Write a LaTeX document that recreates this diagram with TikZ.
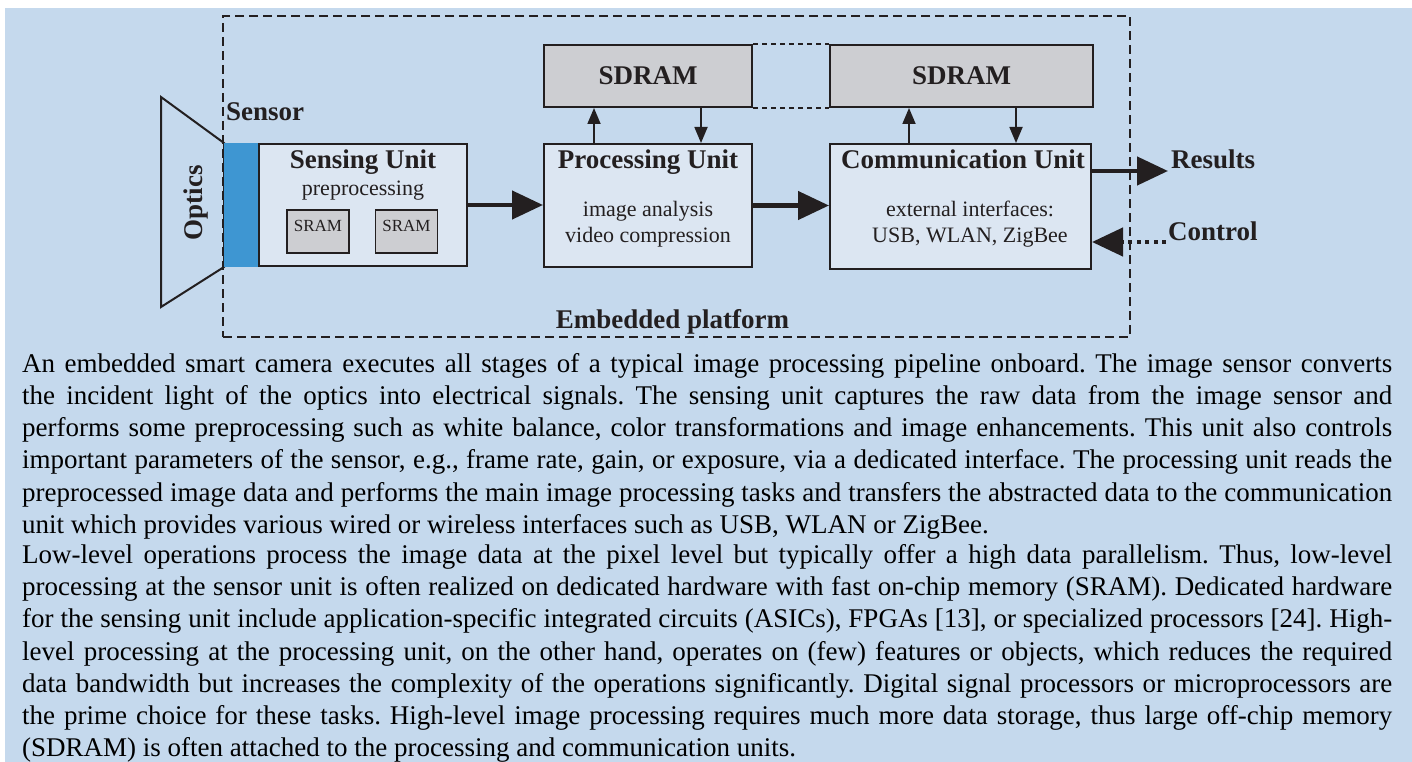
\documentclass[tikz,border=0pt]{standalone}
\usepackage{fontspec}
\setmainfont{Liberation Serif}
\usepackage{tikz}
\usetikzlibrary{arrows.meta}

\definecolor{bgblue}{RGB}{197,217,237}
\definecolor{unitfill}{RGB}{220,230,242}
\definecolor{ramgrey}{RGB}{205,206,210}
\definecolor{sensblue}{RGB}{62,150,210}
\definecolor{ink}{RGB}{35,31,32}

\tikzset{
  unitbox/.style={draw=ink, line width=2pt, fill=unitfill, inner sep=0pt},
  sdrambox/.style={draw=ink, line width=2pt, fill=ramgrey, inner sep=0pt, minimum height=62pt, text=ink, font=\fontsize{27}{30}\selectfont\bfseries},
  srambox/.style={draw=ink, line width=1.2pt, fill=ramgrey, inner sep=0pt, minimum width=62pt, minimum height=43pt, text height=12pt, text depth=12pt, text=ink, font=\fontsize{17}{20}\selectfont},
  title/.style={inner sep=0pt, anchor=base, text=ink, font=\fontsize{27}{30}\selectfont\bfseries},
  subtext/.style={inner sep=0pt, align=center, text=ink, font=\fontsize{22}{25.7}\selectfont},
  bigarrow/.style={draw=ink, line width=4.5pt, -{Triangle[length=31pt,width=28pt]}},
  ramarrow/.style={draw=ink, line width=1.8pt, -{Triangle[length=16pt,width=13pt]}},
  sdlink/.style={draw=ink, line width=2pt, dash pattern=on 5pt off 4pt},
}

\begin{document}
\begin{tikzpicture}[x=1pt,y=1pt]
\useasboundingbox (0,0) rectangle (1412,-762);
\fill[bgblue] (5,-8) rectangle (1412,-762);

% platform and optics
\node[draw=ink, line width=2pt, dash pattern=on 9pt off 5pt, inner sep=0pt, minimum width=907pt, minimum height=321pt] (platform) at (676.5,-176.5) {};
\node[title] (platlbl) at (672.5,-328) {Embedded platform};

\draw[ink, line width=2pt] (161,-97) -- (224,-143) -- (224,-267) -- (161,-307) -- cycle;
\node[title, anchor=center, rotate=90] (optics) at (196,-203) {Optics};

\node[fill=sensblue, inner sep=0pt, minimum width=35pt, minimum height=124pt] (sensor) at (241.5,-205) {};
\node[title, anchor=base west] (sensorlbl) at (226,-120.7) {Sensor};

% units
\node[unitbox, minimum width=208pt, minimum height=122pt] (sens) at (363,-205) {};
\node[title] (senslbl) at (363,-169) {Sensing Unit};
\node[subtext, anchor=base] (senssub) at (363,-195) {preprocessing};
\node[srambox] (sram1) at (318,-231.5) {SRAM};
\node[srambox] (sram2) at (406.5,-231.5) {SRAM};

\node[unitbox, minimum width=208pt, minimum height=123pt] (proc) at (648,-205.5) {};
\node[title] (proclbl) at (648,-169) {Processing Unit};
\node[subtext] (procsub) at (648,-224) {image analysis\\video compression};

\node[unitbox, minimum width=261pt, minimum height=125pt] (comm) at (960.5,-206.5) {};
\node[title] (commlbl) at (963,-168) {Communication Unit};
\node[subtext] (commsub) at (970,-224) {external interfaces:\\USB, WLAN, ZigBee};

\node[sdrambox, minimum width=208pt] (sd1) at (648,-76) {SDRAM};
\node[sdrambox, minimum width=263pt] (sd2) at (961.5,-76) {SDRAM};

\draw[sdlink] (sd1.north east) -- (sd2.north west);
\draw[sdlink] (sd1.south east) -- (sd2.south west);

\draw[ramarrow] ([xshift=-54pt]proc.north) -- ([xshift=-54pt]sd1.south);
\draw[ramarrow] ([xshift=53pt]sd1.south) -- ([xshift=53pt]proc.north);
\draw[ramarrow] ([xshift=-51.5pt]comm.north) -- ([xshift=-52.5pt]sd2.south);
\draw[ramarrow] ([xshift=54.5pt]sd2.south) -- ([xshift=55.5pt]comm.north);

\draw[bigarrow] (sens.east) -- (sens.east -| proc.west);
\draw[bigarrow] (proc.east) -- (proc.east -| comm.west);

% outputs
\coordinate (restip) at (1168,-171);
\coordinate (ctlstart) at (1166,-242);
\draw[bigarrow] ([yshift=35.5pt]comm.east) -- (restip);
\draw[bigarrow, dash pattern=on 4pt off 4.5pt] (ctlstart) -- ([yshift=-35.5pt]comm.east);
\node[title, anchor=base west] (results) at (1171,-169) {Results};
\node[title, anchor=base west] (control) at (1168,-240.7) {Control};

% caption text
\node[anchor=north west, inner sep=0pt, text width=1370pt, align=justify, font=\fontsize{27}{32.2}\selectfont] (caption) at (22,-353) {\frenchspacing\hyphenpenalty=10000\parindent=0pt\parskip=-2pt
An embedded smart camera executes all stages of a typical image processing pipeline onboard. The image sensor converts\linebreak
the incident light of the optics into electrical signals. The sensing unit captures the raw data from the image sensor and\linebreak
performs some preprocessing such as white balance, color transformations and image enhancements. This unit also controls\linebreak
important parameters of the sensor, e.g., frame rate, gain, or exposure, via a dedicated interface. The processing unit reads the\linebreak
preprocessed image data and performs the main image processing tasks and transfers the abstracted data to the communication\linebreak
unit which provides various wired or wireless interfaces such as USB, WLAN or ZigBee.\par
Low-level operations process the image data at the pixel level but typically offer a high data parallelism. Thus, low-level\linebreak
processing at the sensor unit is often realized on dedicated hardware with fast on-chip memory (SRAM). Dedicated hardware\linebreak
for the sensing unit include application-specific integrated circuits (ASICs), FPGAs [13], or specialized processors [24]. High-\linebreak
level processing at the processing unit, on the other hand, operates on (few) features or objects, which reduces the required\linebreak
data bandwidth but increases the complexity of the operations significantly. Digital signal processors or microprocessors are\linebreak
the prime choice for these tasks. High-level image processing requires much more data storage, thus large off-chip memory\linebreak
(SDRAM) is often attached to the processing and communication units.};
\end{tikzpicture}
\end{document}
